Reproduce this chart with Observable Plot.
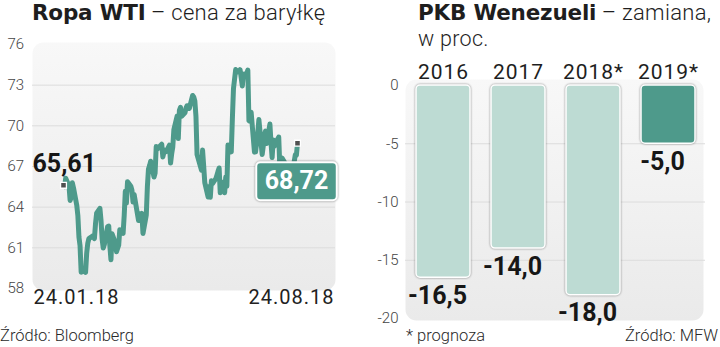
<!DOCTYPE html>
<html><head><meta charset="utf-8">
<script src="https://cdn.jsdelivr.net/npm/d3@7"></script>
<script src="https://cdn.jsdelivr.net/npm/@observablehq/plot@0.6"></script>
<style>
body{margin:0;background:#fff;font-family:Roboto,sans-serif;}
#root{position:relative;width:720px;height:347px;overflow:hidden;background:#fff}
.t{position:absolute;font-size:22px;line-height:22px;color:#1e1e1e;white-space:nowrap}
.t b,.t span{display:inline-block;line-height:22px;height:22px;vertical-align:top}
.t b{font-family:"DejaVu Sans",sans-serif;font-size:21.5px;font-weight:700;letter-spacing:-0.2px}
.t span{font-weight:300;letter-spacing:0.3px}
.f{position:absolute;font-size:16.5px;line-height:16px;font-weight:300;color:#2a2a2a;white-space:nowrap}
#left{position:absolute;left:0;top:40px}
#right{position:absolute;left:360px;top:50px}
.bars rect,.boxr{filter:drop-shadow(0 0 1.2px rgba(0,0,0,.45))}
</style></head><body>
<div id="root">
  <div class="t" style="left:32px;top:2px"><b>Ropa WTI</b> <span>– cena za baryłkę</span></div>
  <div class="t" style="left:418px;top:2px"><b>PKB Wenezueli</b> <span>– zamiana,</span></div>
  <div class="t" style="left:418px;top:27.5px;font-size:21.5px"><span style="font-size:21.5px">w proc.</span></div>
  <div id="left"></div>
  <div id="right"></div>
  <div class="f" style="left:0;top:328px">Źródło: Bloomberg</div>
  <div class="f" style="left:406px;top:328px">* prognoza</div>
  <div class="f" style="right:2px;top:328px">Źródło: MFW</div>
</div>
<script>
// ---- Data: WTI oil price, USD per barrel ----
const oilDates = ["2018-01-24","2018-01-25","2018-01-26","2018-01-29","2018-01-30","2018-01-31","2018-02-01","2018-02-02","2018-02-05","2018-02-06","2018-02-07","2018-02-08","2018-02-09","2018-02-12","2018-02-13","2018-02-14","2018-02-15","2018-02-16","2018-02-20","2018-02-21","2018-02-22","2018-02-23","2018-02-26","2018-02-27","2018-02-28","2018-03-01","2018-03-02","2018-03-05","2018-03-06","2018-03-07","2018-03-08","2018-03-09","2018-03-12","2018-03-13","2018-03-14","2018-03-15","2018-03-16","2018-03-19","2018-03-20","2018-03-21","2018-03-22","2018-03-23","2018-03-26","2018-03-27","2018-03-28","2018-03-29","2018-04-02","2018-04-03","2018-04-04","2018-04-05","2018-04-06","2018-04-09","2018-04-10","2018-04-11","2018-04-12","2018-04-13","2018-04-16","2018-04-17","2018-04-18","2018-04-19","2018-04-20","2018-04-23","2018-04-24","2018-04-25","2018-04-26","2018-04-27","2018-04-30","2018-05-01","2018-05-02","2018-05-03","2018-05-04","2018-05-07","2018-05-08","2018-05-09","2018-05-10","2018-05-11","2018-05-14","2018-05-15","2018-05-16","2018-05-17","2018-05-18","2018-05-21","2018-05-22","2018-05-23","2018-05-24","2018-05-25","2018-05-29","2018-05-30","2018-05-31","2018-06-01","2018-06-04","2018-06-05","2018-06-06","2018-06-07","2018-06-08","2018-06-11","2018-06-12","2018-06-13","2018-06-14","2018-06-15","2018-06-18","2018-06-19","2018-06-20","2018-06-21","2018-06-22","2018-06-25","2018-06-26","2018-06-27","2018-06-28","2018-06-29","2018-07-02","2018-07-03","2018-07-05","2018-07-06","2018-07-09","2018-07-10","2018-07-11","2018-07-12","2018-07-13","2018-07-16","2018-07-17","2018-07-18","2018-07-19","2018-07-20","2018-07-23","2018-07-24","2018-07-25","2018-07-26","2018-07-27","2018-07-30","2018-07-31","2018-08-01","2018-08-02","2018-08-03","2018-08-06","2018-08-07","2018-08-08","2018-08-09","2018-08-10","2018-08-13","2018-08-14","2018-08-15","2018-08-16","2018-08-17","2018-08-20","2018-08-21","2018-08-22","2018-08-23","2018-08-24"];
const oilPrices = [65.61,65.51,66.14,65.56,64.50,64.73,65.80,65.45,64.15,63.39,61.79,61.15,59.20,59.29,59.19,60.60,61.34,61.68,61.90,61.68,62.77,63.55,63.91,63.01,61.64,60.99,61.25,62.57,62.60,61.15,60.12,62.04,61.36,60.71,60.96,61.19,62.34,62.06,63.40,65.17,64.30,65.88,65.55,65.25,64.38,64.94,63.01,63.51,63.37,63.54,62.06,63.42,65.51,66.82,67.07,67.39,66.22,66.52,68.47,68.29,68.38,68.64,67.70,68.05,68.19,68.10,68.57,67.25,67.93,68.43,69.72,70.73,69.06,71.14,71.36,70.70,70.96,71.31,71.49,71.49,71.28,72.24,72.13,71.84,70.71,67.88,66.73,68.21,67.04,65.81,64.75,65.52,64.73,65.95,65.74,66.10,66.36,66.64,66.89,65.06,65.85,65.07,66.22,65.54,68.58,68.08,70.53,72.76,73.45,74.15,73.94,74.14,72.94,73.80,73.85,74.11,70.38,70.33,71.01,68.06,68.08,68.76,69.46,70.46,67.89,68.52,69.30,69.61,68.69,70.13,68.76,67.66,68.96,68.49,69.01,69.17,66.94,66.81,67.63,67.20,67.04,65.01,65.46,65.91,66.43,67.35,67.86,67.83,68.72];
const oilTicks = [58, 61, 64, 67, 70, 73, 76];
const oilXLabels = ["24.01.18", "24.08.18"];

// ---- Data: Venezuela GDP change, % ----
const years = ["2016", "2017", "2018*", "2019*"];
const gdpChange = [-16.5, -14.0, -18.0, -5.0];
const gdpTicks = [0, -5, -10, -15, -20];
const highlightYear = "2019*";

const TEAL = "#4e9a8b", LIGHT = "#bddbd3";
const NS = "http://www.w3.org/2000/svg";
const comma = (v, n) => v.toFixed(n).replace(".", ",");

function addGrad(svg, id) {
  const defs = document.createElementNS(NS, "defs");
  defs.innerHTML = `<linearGradient id="${id}" x1="0" y1="0" x2="0" y2="1"><stop offset="0" stop-color="#f8f8f8"/><stop offset="1" stop-color="#eaeaea"/></linearGradient>`;
  svg.insertBefore(defs, svg.firstChild);
}

const oil = oilDates.map((d, i) => ({date: new Date(d), price: oilPrices[i]}));
const first = oil[0], last = oil[oil.length - 1];

const left = Plot.plot({
  width: 360, height: 275,
  marginTop: 4, marginBottom: 27, marginLeft: 32, marginRight: 25,
  style: {fontFamily: "Roboto, sans-serif", background: "transparent", overflow: "visible"},
  x: {type: "utc", insetLeft: 31, insetRight: 38, axis: null},
  y: {domain: [58, 76], axis: null},
  marks: [
    Plot.frame({fill: "url(#gL)", stroke: null, rx: 11, insetTop: -2, insetBottom: -2}),
    Plot.gridY(oilTicks.slice(1, -1), {stroke: "#dcdcdc", strokeOpacity: 1}),
    Plot.axisY(oilTicks, {tickSize: 0, tickPadding: 3, textAnchor: "start", dx: -22, fontSize: 15, fontWeight: 300, fill: "#444", tickFormat: d => String(d), label: null}),
    Plot.line(oil, {x: "date", y: "price", stroke: TEAL, strokeWidth: 5, strokeLinejoin: "round", strokeLinecap: "round"}),
    Plot.dot([first, last], {x: "date", y: "price", symbol: "square", r: 3.3, fill: "#505050", stroke: "#fff", strokeWidth: 1.3}),
    Plot.text([first], {x: "date", y: "price", text: d => comma(d.price, 2), textAnchor: "start", dx: -31, dy: -21, fontSize: 25, fontWeight: 700, fill: "#161616"}),
    Plot.text([last], {x: "date", y: "price", text: d => comma(d.price, 2), dx: -1, dy: 38, fontSize: 25, fontWeight: 700, fill: "#fff", className: "endlabel"}),
    Plot.text([first], {x: "date", text: () => oilXLabels[0], frameAnchor: "bottom", textAnchor: "start", dx: -30, dy: 15, fontSize: 20, fill: "#222"}),
    Plot.text([last], {x: "date", text: () => oilXLabels[1], frameAnchor: "bottom", textAnchor: "end", dx: 37, dy: 15, fontSize: 20, fill: "#222"})
  ]
});
addGrad(left, "gL");
document.getElementById("left").appendChild(left);
left.querySelectorAll("text").forEach(t => { if (/^\d\d\.\d\d\.\d\d$/.test(t.textContent)) t.setAttribute("letter-spacing", "1px"); });
{
  const g = left.querySelector("g.endlabel");
  const t = g.querySelector("text");
  const bb = t.getBBox();
  const r = document.createElementNS(NS, "rect");
  const cy = bb.y + bb.height / 2 + 0.5;
  r.setAttribute("x", bb.x - 8.5); r.setAttribute("width", bb.width + 17);
  r.setAttribute("y", cy - 19); r.setAttribute("height", 38);
  r.setAttribute("rx", 4); r.setAttribute("fill", TEAL);
  r.setAttribute("stroke", "#fff"); r.setAttribute("stroke-width", 2);
  r.setAttribute("class", "boxr");
  if (t.getAttribute("transform")) r.setAttribute("transform", t.getAttribute("transform"));
  t.parentNode.insertBefore(r, t);
}

const gdp = years.map((y, i) => ({year: y, value: gdpChange[i]}));
const right = Plot.plot({
  width: 360, height: 278,
  marginTop: 35, marginBottom: 10, marginLeft: 45, marginRight: 15,
  style: {fontFamily: "Roboto, sans-serif", background: "transparent", overflow: "visible"},
  x: {domain: years, paddingInner: 0.28, paddingOuter: 0.14, axis: null},
  y: {domain: [-20, 0], axis: null},
  marks: [
    Plot.frame({fill: "url(#gR)", stroke: null, rx: 11, insetTop: -6, insetBottom: -2, insetRight: 2}),
    Plot.gridY(gdpTicks.slice(1, -1), {stroke: "#dcdcdc", strokeOpacity: 1}),
    Plot.axisY(gdpTicks, {tickSize: 0, tickPadding: 7, fontSize: 15, fontWeight: 300, fill: "#444", tickFormat: d => String(d), label: null}),
    Plot.barY(gdp, {x: "year", y1: 0, y2: "value", fill: d => d.year === highlightYear ? TEAL : LIGHT, stroke: "#fff", strokeWidth: 1.5, rx: 4, className: "bars"}),
    Plot.text(gdp, {x: "year", y: 0, text: "year", dy: -13, fontSize: 21, fill: "#1e1e1e"}),
    Plot.text(gdp, {x: "year", y: "value", text: d => comma(d.value, 1), dx: -6, dy: 18, fontSize: 25, fontWeight: 700, fill: "#161616"})
  ]
});
addGrad(right, "gR");
document.getElementById("right").appendChild(right);
right.querySelectorAll("text").forEach(t => { if (/^20\d\d/.test(t.textContent)) t.setAttribute("letter-spacing", "1px"); });
</script>
</body></html>
